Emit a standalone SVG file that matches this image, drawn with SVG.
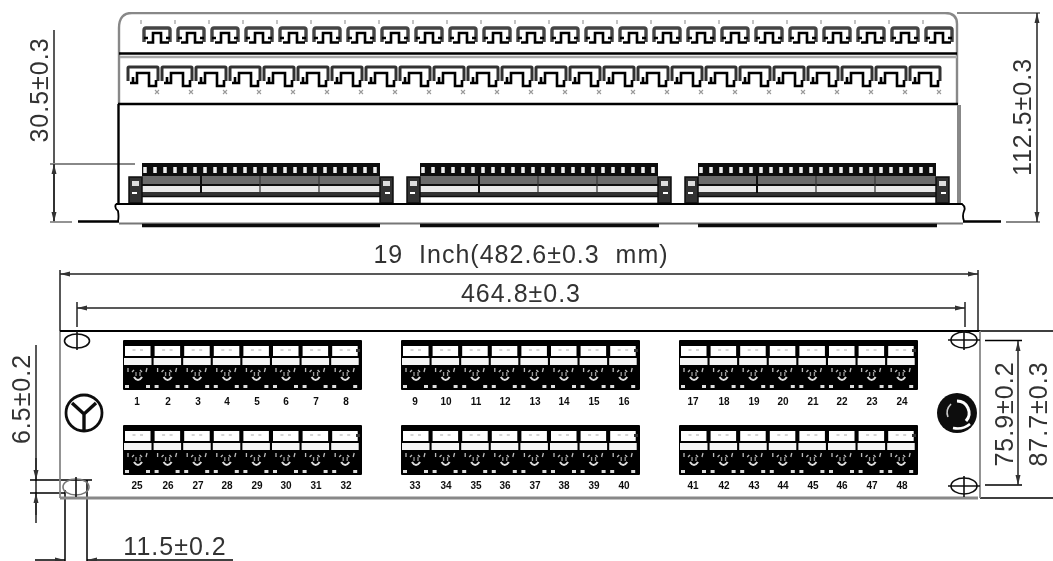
<svg xmlns="http://www.w3.org/2000/svg" width="1053" height="561" viewBox="0 0 1053 561">
<style>
.bg{fill:#fff}
.l{fill:none;stroke:#111;stroke-width:1.6}
.k{fill:none;stroke:#000;stroke-width:2.4}
.g{fill:none;stroke:#888;stroke-width:2.4}
.d{fill:none;stroke:#222;stroke-width:1.5}
.dg{fill:none;stroke:#888;stroke-width:1.8}
.m{fill:none;stroke:#000;stroke-width:2.6}
.t{font-family:"Liberation Sans",Arial,sans-serif;font-size:25px;letter-spacing:1px;fill:#333;text-anchor:middle;white-space:pre}
.n{font-family:"Liberation Sans",Arial,sans-serif;font-size:10px;font-weight:700;fill:#111;text-anchor:middle}
</style>
<defs>
<filter id="soft" x="0" y="0" width="100%" height="100%" filterUnits="objectBoundingBox"><feGaussianBlur stdDeviation="0.7"/></filter>
<marker id="a" markerWidth="11" markerHeight="8" refX="10" refY="4" orient="auto-start-reverse" markerUnits="userSpaceOnUse"><path d="M0 1.500L10 4L0 6.500Z" fill="#333"/></marker>
<g id="g1">
<path d="M1 15V3Q1 1 3 1H25Q27 1 27 3V15" fill="none" stroke="#444" stroke-width="3.400"/>
<path class="m" d="M4 15.500H10V6H18V15.500H26M1 11H5M23 11H27"/>
<path d="M-2 -7v4" stroke="#999" stroke-width="1.200"/>
</g>
<g id="g2">
<path d="M1 15V2Q1 1 2 1H30Q31 1 31 2V15" fill="none" stroke="#333" stroke-width="3"/>
<path class="m" d="M3 17H10V7H22V20H29V14M6 11V17"/>
<path d="M28 24l4 4M32 24l-4 4" stroke="#999" stroke-width="1.100"/>
</g>
<g id="cell">
<rect x="2" y="6" width="25.500" height="10" fill="#fff"/>
<rect x="1" y="18" width="27.500" height="7" fill="#f4f4f4"/>
<path d="M9.500 10h3M17 10h3" stroke="#aaa"/>
<path d="M5 28v4M24 28l-1 4M9 32l2-2M19 32l-2-2" stroke="#bbb" stroke-width="1.300"/>
<path d="M11 37q4 6 8 0" fill="none" stroke="#ddd" stroke-width="2.200"/>
<path d="M13 32v4M17 32v4" stroke="#999" stroke-width="1.300"/>
<path d="M2 46.500h4M23 46.500h4" stroke="#ddd" stroke-width="2.800"/>
</g>
<g id="block">
<rect x="0" y="0" width="239" height="50" rx="1" fill="#000"/>
<use href="#cell" x="0"/><use href="#cell" x="29.600"/><use href="#cell" x="59.200"/><use href="#cell" x="88.800"/><use href="#cell" x="118.400"/><use href="#cell" x="148"/><use href="#cell" x="177.600"/><use href="#cell" x="207.200"/>
<rect x="233" y="9" width="4" height="3" fill="#333"/>
</g>
<g id="module">
<rect x="13" y="0" width="238" height="13" fill="#111"/>
<path d="M16 4v6M26 4v6M36 4v6M46 4v6M56 4v6M66 4v6M76 4v6M86 4v6M96 4v6M106 4v6M116 4v6M126 4v6M136 4v6M146 4v6M156 4v6M166 4v6M176 4v6M186 4v6M196 4v6M206 4v6M216 4v6M226 4v6M236 4v6M246 4v6" stroke="#eee" stroke-width="3.500"/>
<rect x="13" y="13" width="238" height="8" fill="#6a6a6a"/>
<rect x="13" y="21" width="238" height="2" fill="#111"/>
<rect x="13" y="23" width="238" height="6" fill="#e8e8e8"/>
<rect x="13" y="29" width="238" height="4" fill="#333"/>
<rect x="9" y="34" width="246" height="5" fill="#fff"/>
<path d="M9 33.500H255M5 40.500H259" stroke="#111" stroke-width="1.500"/>
<path d="M72 13V30" stroke="#111" stroke-width="2"/><path d="M131 13V30M190 13V30" stroke="#333" stroke-width="1.200"/>
<path d="M0 14H13V40H0ZM251 14H264V40H251Z" fill="#333" stroke="#111" stroke-width="1.500"/>
<path d="M3 18H10V23H3ZM254 18H261V23H254Z" fill="#ddd"/>
<path d="M3 30H8M256 30H261" stroke="#fff" stroke-width="2"/>
</g>
</defs>
<rect class="bg" width="1053" height="561"/>
<g filter="url(#soft)">
<g id="connectors">
<path class="d" d="M54 30V222"/>
<path class="dg" d="M50 164H135"/>
<path class="d" marker-end="url(#a)" d="M54 196V164"/>
<path class="d" marker-end="url(#a)" d="M54 196V222"/>
<path class="dg" d="M50 222H72"/>
<path class="g" style="stroke-width:3" d="M957 12.500H1040"/>
<path class="dg" d="M1006 222H1040"/>
<path class="d" marker-start="url(#a)" marker-end="url(#a)" d="M1037 13V222"/>
<path class="d" d="M60 270V331M77 302V327"/>
<path class="d" marker-start="url(#a)" marker-end="url(#a)" d="M60 274H978"/>
<path class="d" d="M978 270V331M965 302V327"/>
<path class="d" marker-start="url(#a)" marker-end="url(#a)" d="M77 308H965"/>
<path class="k" style="stroke-width:1.500" d="M985 340.500H1022M985 485H1022"/>
<path class="d" marker-start="url(#a)" marker-end="url(#a)" d="M1018 341V485"/>
<path class="k" style="stroke-width:1.500" d="M980 331H1053M980 498H1053"/>
<path class="d" style="stroke-width:1.500" d="M36 345V523"/>
<path class="d" marker-end="url(#a)" d="M36 458V480"/>
<path class="d" marker-end="url(#a)" d="M36 515V493"/>
<path class="k" style="stroke-width:1.500" d="M30 480H92M30 493H65"/>
<path class="k" style="stroke-width:1.500" d="M65 490V561M87 480V561"/>
<path class="k" style="stroke-width:1.500" marker-end="url(#a)" d="M35 560H65"/>
<path class="k" style="stroke-width:1.500" marker-end="url(#a)" d="M233 560H87"/>
</g>
<g id="rear-view">
<path class="g" d="M119 104V28Q119 13 132 13H945Q957 13 957 24V104"/>
<path class="k" d="M119 53.500H957"/>
<path class="g" style="stroke:#aaa" d="M120 57H957"/>
<path class="k" d="M118 104H958"/>
<path class="k" d="M118.500 104V204"/>
<path class="g" style="stroke-width:4" d="M959 105V203"/>
<g id="top-terminals">
<use href="#g1" x="143" y="27"/><use href="#g1" x="177" y="27"/><use href="#g1" x="211" y="27"/><use href="#g1" x="245" y="27"/><use href="#g1" x="279" y="27"/><use href="#g1" x="313" y="27"/><use href="#g1" x="347" y="27"/><use href="#g1" x="381" y="27"/><use href="#g1" x="415" y="27"/><use href="#g1" x="449" y="27"/><use href="#g1" x="483" y="27"/><use href="#g1" x="517" y="27"/><use href="#g1" x="551" y="27"/><use href="#g1" x="585" y="27"/><use href="#g1" x="619" y="27"/><use href="#g1" x="653" y="27"/><use href="#g1" x="687" y="27"/><use href="#g1" x="721" y="27"/><use href="#g1" x="755" y="27"/><use href="#g1" x="789" y="27"/><use href="#g1" x="823" y="27"/><use href="#g1" x="857" y="27"/><use href="#g1" x="891" y="27"/><use href="#g1" x="925" y="27"/>
</g>
<g id="bottom-terminals">
<use href="#g2" x="127" y="66"/><use href="#g2" x="161" y="66"/><use href="#g2" x="195" y="66"/><use href="#g2" x="229" y="66"/><use href="#g2" x="263" y="66"/><use href="#g2" x="297" y="66"/><use href="#g2" x="331" y="66"/><use href="#g2" x="365" y="66"/><use href="#g2" x="399" y="66"/><use href="#g2" x="433" y="66"/><use href="#g2" x="467" y="66"/><use href="#g2" x="501" y="66"/><use href="#g2" x="535" y="66"/><use href="#g2" x="569" y="66"/><use href="#g2" x="603" y="66"/><use href="#g2" x="637" y="66"/><use href="#g2" x="671" y="66"/><use href="#g2" x="705" y="66"/><use href="#g2" x="739" y="66"/><use href="#g2" x="773" y="66"/><use href="#g2" x="807" y="66"/><use href="#g2" x="841" y="66"/><use href="#g2" x="875" y="66"/><use href="#g2" x="909" y="66"/>
</g>
<use id="module-1" href="#module" x="129" y="163"/>
<use id="module-2" href="#module" x="407" y="163"/>
<use id="module-3" href="#module" x="685" y="163"/>
<g id="base">
<path class="k" style="stroke-width:1.800" d="M116 204H962Q966 207 964 211Q962 216 964 221M116 204Q114 208 118 211Q119 217 118 221"/>
<path class="k" d="M78 221.500H119M963 221.500H1001"/>
<path class="dg" style="stroke:#777" d="M119 223.500H963"/>
<path d="M142 225.500H380M420 225.500H659M698 225.500H937" stroke="#111" stroke-width="3.500"/>
</g>
</g>
<g id="front-panel">
<path class="g" style="stroke-width:1.800" d="M60 331V498"/>
<path class="k" style="stroke-width:1.800" d="M60 331H980"/>
<path class="g" style="stroke-width:3" d="M60 498H978"/>
<path class="g" style="stroke-width:1.800" d="M980 331V498"/>
<use id="block-1" href="#block" x="123" y="340"/>
<use id="block-2" href="#block" x="401" y="340"/>
<use id="block-3" href="#block" x="679" y="340"/>
<use id="block-4" href="#block" x="123" y="425"/>
<use id="block-5" href="#block" x="401" y="425"/>
<use id="block-6" href="#block" x="679" y="425"/>
<g id="hole-1"><ellipse class="l" cx="77" cy="341" rx="12.500" ry="7"/><path class="l" d="M77 331V350"/></g>
<g id="hole-2"><ellipse class="l" cx="964" cy="340" rx="13" ry="8"/><path class="l" d="M948 340H980M964 330V350"/></g>
<g id="hole-3"><ellipse class="l" style="stroke:#777" cx="76" cy="487" rx="13" ry="8"/><path class="l" d="M76 477V497"/></g>
<g id="hole-4"><ellipse class="l" cx="964" cy="486" rx="13" ry="8"/><path class="l" d="M948 486H980M964 476V497"/></g>
<g id="logo-left"><circle cx="84" cy="413" r="18" fill="none" stroke="#111" stroke-width="2.800"/><path d="M72 403L84 414L96 403M84 414V430" fill="none" stroke="#111" stroke-width="3.400"/></g>
<g id="logo-right"><circle cx="957" cy="413" r="20" fill="#111"/><path d="M957 401A12 12 0 0 1 966 421" fill="none" stroke="#fff" stroke-width="3"/><path d="M953 428Q963 430 970 424" fill="none" stroke="#fff" stroke-width="2.500"/><path d="M951 404Q945 410 948 417" fill="none" stroke="#ccc" stroke-width="1.500"/></g>
<g id="port-numbers">
<text class="n" x="137" y="405">1</text><text class="n" x="168" y="405">2</text><text class="n" x="198" y="405">3</text><text class="n" x="227" y="405">4</text><text class="n" x="257" y="405">5</text><text class="n" x="286" y="405">6</text><text class="n" x="316" y="405">7</text><text class="n" x="346" y="405">8</text>
<text class="n" x="415" y="405">9</text><text class="n" x="446" y="405">10</text><text class="n" x="476" y="405">11</text><text class="n" x="505" y="405">12</text><text class="n" x="535" y="405">13</text><text class="n" x="564" y="405">14</text><text class="n" x="594" y="405">15</text><text class="n" x="624" y="405">16</text>
<text class="n" x="693" y="405">17</text><text class="n" x="724" y="405">18</text><text class="n" x="754" y="405">19</text><text class="n" x="783" y="405">20</text><text class="n" x="813" y="405">21</text><text class="n" x="842" y="405">22</text><text class="n" x="872" y="405">23</text><text class="n" x="902" y="405">24</text>
<text class="n" x="137" y="489">25</text><text class="n" x="168" y="489">26</text><text class="n" x="198" y="489">27</text><text class="n" x="227" y="489">28</text><text class="n" x="257" y="489">29</text><text class="n" x="286" y="489">30</text><text class="n" x="316" y="489">31</text><text class="n" x="346" y="489">32</text>
<text class="n" x="415" y="489">33</text><text class="n" x="446" y="489">34</text><text class="n" x="476" y="489">35</text><text class="n" x="505" y="489">36</text><text class="n" x="535" y="489">37</text><text class="n" x="564" y="489">38</text><text class="n" x="594" y="489">39</text><text class="n" x="624" y="489">40</text>
<text class="n" x="693" y="489">41</text><text class="n" x="724" y="489">42</text><text class="n" x="754" y="489">43</text><text class="n" x="783" y="489">44</text><text class="n" x="813" y="489">45</text><text class="n" x="842" y="489">46</text><text class="n" x="872" y="489">47</text><text class="n" x="902" y="489">48</text>
</g>
</g>
<g id="dimension-labels">
<text class="t" transform="translate(48 90) rotate(-90)">30.5±0.3</text>
<text class="t" transform="translate(1031 117) rotate(-90)">112.5±0.3</text>
<text class="t" x="521" y="263">19  Inch(482.6±0.3  mm)</text>
<text class="t" x="521" y="302">464.8±0.3</text>
<text class="t" transform="translate(30 399) rotate(-90)">6.5±0.2</text>
<text class="t" transform="translate(1013 414) rotate(-90)">75.9±0.2</text>
<text class="t" transform="translate(1047 414) rotate(-90)">87.7±0.3</text>
<text class="t" x="175" y="555">11.5±0.2</text>
</g>
</g>
</svg>
